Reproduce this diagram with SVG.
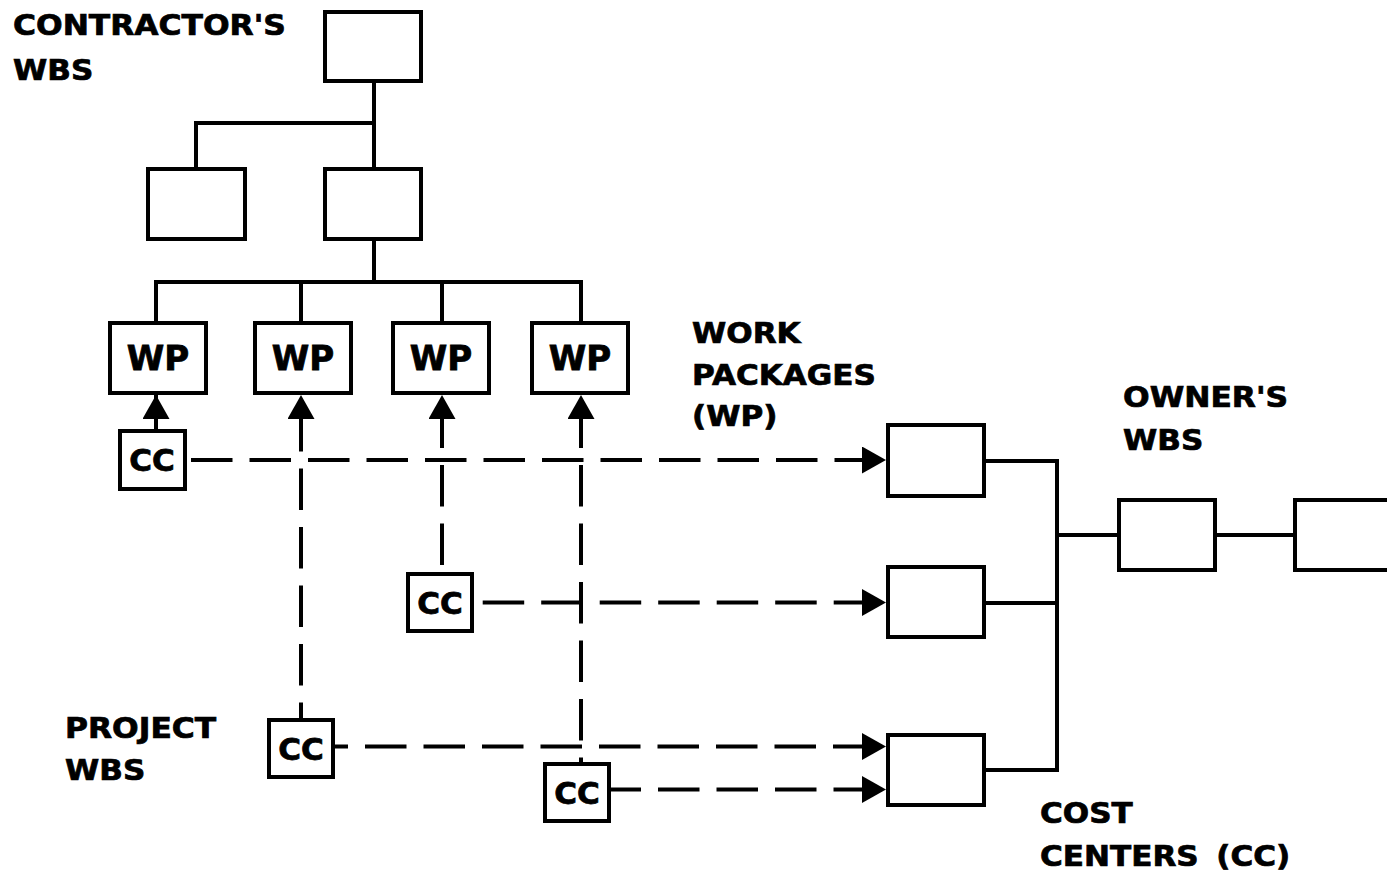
<svg xmlns="http://www.w3.org/2000/svg" width="1387" height="874" viewBox="0 0 1387 874">
<style>
  .box { fill: #ffffff; stroke: #000000; stroke-width: 4; }
  .ln { fill: none; stroke: #000000; stroke-width: 4; stroke-linejoin: miter; }
  .dash { fill: none; stroke: #000000; stroke-width: 4; stroke-dasharray: 41.5 17; }
  .lbl { font-family: "DejaVu Sans", Verdana, sans-serif; font-weight: bold; font-size: 27.5px; fill: #000000; stroke: #000000; stroke-width: 0.7; }
  .wp { font-family: "DejaVu Sans", Verdana, sans-serif; font-weight: bold; font-size: 34px; fill: #000000; stroke: #000000; stroke-width: 0.8; text-anchor: middle; }
  .cc { font-family: "DejaVu Sans", Verdana, sans-serif; font-weight: bold; font-size: 31px; fill: #000000; stroke: #000000; stroke-width: 0.8; text-anchor: middle; }
</style>
<defs>
  <marker id="arrow" markerUnits="userSpaceOnUse" viewBox="0 0 24 27" refX="24" refY="13.5" markerWidth="24" markerHeight="27" orient="auto-start-reverse">
    <path d="M0,0 L24,13.5 L0,27 Z" fill="#000000"/>
  </marker>
</defs>
<rect width="1387" height="874" fill="#ffffff"/>

<g id="labels">
  <text class="lbl" transform="translate(13,35) scale(1.14,1)">CONTRACTOR'S</text>
  <text class="lbl" transform="translate(13,80) scale(1.13,1)">WBS</text>
  <text class="lbl" transform="translate(692,343) scale(1.13,1)">WORK</text>
  <text class="lbl" transform="translate(692,385) scale(1.13,1)">PACKAGES</text>
  <text class="lbl" transform="translate(692,426) scale(1.13,1)">(WP)</text>
  <text class="lbl" transform="translate(1123,407) scale(1.14,1)">OWNER'S</text>
  <text class="lbl" transform="translate(1123,450) scale(1.13,1)">WBS</text>
  <text class="lbl" transform="translate(65,738) scale(1.14,1)">PROJECT</text>
  <text class="lbl" transform="translate(65,780) scale(1.13,1)">WBS</text>
  <text class="lbl" transform="translate(1040,823) scale(1.13,1)">COST</text>
  <text class="lbl" transform="translate(1040,866) scale(1.13,1)">CENTERS <tspan dx="6">(CC)</tspan></text>
</g>

<g id="connectors">
  <!-- contractor's WBS tree -->
  <path class="ln" d="M374,81 V169"/>
  <path class="ln" d="M196,169 V123 H374"/>
  <path class="ln" d="M374,239 V282"/>
  <path class="ln" d="M156,323 V282 H581 V323"/>
  <path class="ln" d="M301,282 V323"/>
  <path class="ln" d="M442,282 V323"/>
  <!-- owner's WBS tree -->
  <path class="ln" d="M986,461 H1057 V770 H986"/>
  <path class="ln" d="M986,603 H1057"/>
  <path class="ln" d="M1057,535 H1119"/>
  <path class="ln" d="M1215,535 H1295"/>
  <!-- CC to WP -->
  <path class="ln" d="M156,395 V431" marker-start="url(#arrow)"/>
  <path class="dash" d="M301,395 V720" stroke-dashoffset="43.5" marker-start="url(#arrow)"/>
  <path class="dash" d="M442,395 V572" stroke-dashoffset="47" marker-start="url(#arrow)"/>
  <path class="dash" d="M581,395 V764" stroke-dashoffset="47" marker-start="url(#arrow)"/>
  <!-- CC to owner's WBS -->
  <path class="dash" d="M187,460 H886" stroke-dashoffset="54.5" marker-end="url(#arrow)"/>
  <path class="dash" d="M474,602.5 H886" stroke-dashoffset="49.8" marker-end="url(#arrow)"/>
  <path class="dash" d="M335,746.5 H886" stroke-dashoffset="28.5" marker-end="url(#arrow)"/>
  <path class="dash" d="M610,789.5 H886" stroke-dashoffset="10.5" marker-end="url(#arrow)"/>
</g>

<g id="c-top"><rect class="box" x="325" y="12" width="96" height="69"/></g>
<g id="c-left"><rect class="box" x="148" y="169" width="97" height="70"/></g>
<g id="c-mid"><rect class="box" x="325" y="169" width="96" height="70"/></g>

<g id="wp1"><rect class="box" x="110" y="323" width="96" height="70"/><text class="wp" x="158" y="370">WP</text></g>
<g id="wp2"><rect class="box" x="255" y="323" width="96" height="70"/><text class="wp" x="303" y="370">WP</text></g>
<g id="wp3"><rect class="box" x="393" y="323" width="96" height="70"/><text class="wp" x="441" y="370">WP</text></g>
<g id="wp4"><rect class="box" x="532" y="323" width="96" height="70"/><text class="wp" x="580" y="370">WP</text></g>

<g id="cc1"><rect class="box" x="120" y="431" width="65" height="58"/><text class="cc" x="152" y="471">CC</text></g>
<g id="cc2"><rect class="box" x="408" y="574" width="64" height="57"/><text class="cc" x="440" y="614">CC</text></g>
<g id="cc3"><rect class="box" x="269" y="720" width="64" height="57"/><text class="cc" x="301" y="760">CC</text></g>
<g id="cc4"><rect class="box" x="545" y="764" width="64" height="57"/><text class="cc" x="577" y="804">CC</text></g>

<g id="o-cc1"><rect class="box" x="888" y="425" width="96" height="71"/></g>
<g id="o-cc2"><rect class="box" x="888" y="567" width="96" height="70"/></g>
<g id="o-cc3"><rect class="box" x="888" y="735" width="96" height="70"/></g>
<g id="o-mid"><rect class="box" x="1119" y="500" width="96" height="70"/></g>
<g id="o-top"><rect class="box" x="1295" y="500" width="110" height="70"/></g>
</svg>
